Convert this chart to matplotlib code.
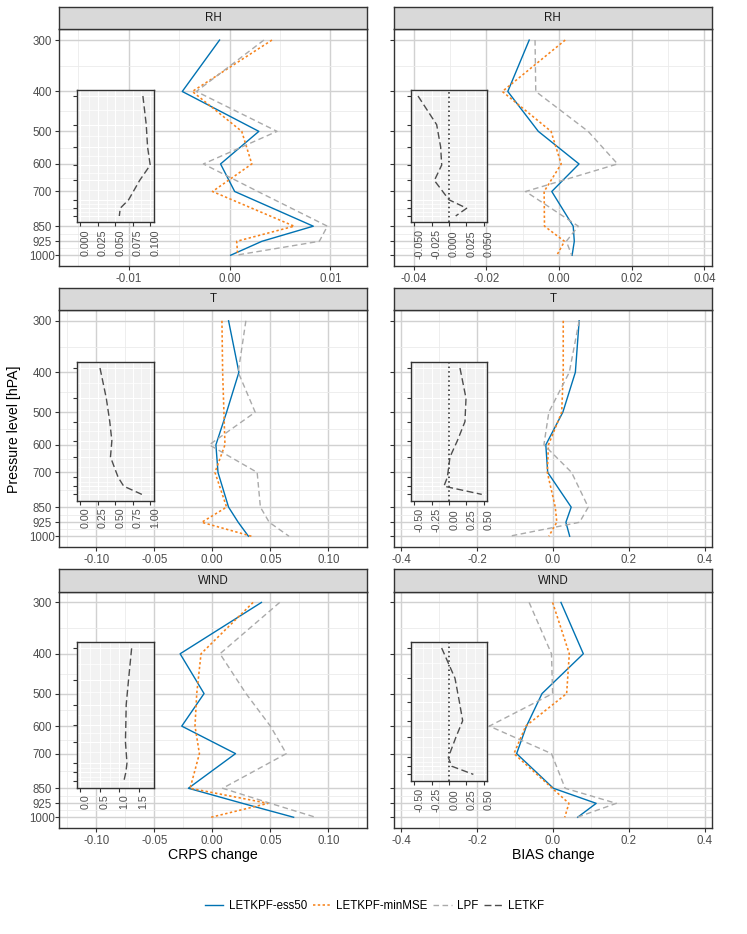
"""Pressure-level profiles of CRPS and BIAS change, with LETKF insets"""

import numpy as np
import matplotlib

matplotlib.use("Agg")
from matplotlib import pyplot as plt
from matplotlib import transforms
from matplotlib.lines import Line2D
from matplotlib.ticker import NullFormatter

plt.rcParams["font.family"] = ["Liberation Sans", "DejaVu Sans"]

# ---- data ----
levels = [300, 400, 500, 600, 700, 850, 925, 1000]
variables = ["RH", "T", "WIND"]
methods = ["LETKPF-ess50", "LETKPF-minMSE", "LPF", "LETKF"]

crps_rh_ess50 = [-0.0010, -0.0047, 0.0029, -0.0009, 0.0005, 0.0083, 0.0032, 0.0001]
crps_rh_minmse = [0.0042, -0.0037, 0.0012, 0.0022, -0.0017, 0.0064, 0.0007, 0.0008]
crps_rh_lpf = [0.0034, -0.0033, 0.0047, -0.0026, 0.0028, 0.0097, 0.0089, 0.0006]
crps_rh_letkf = [0.0895, 0.0943, 0.0962, 0.1000, 0.0848, 0.0690, 0.0570, 0.0557]

crps_t_ess50 = [0.0140, 0.0229, 0.0123, 0.0031, 0.0049, 0.0140, 0.0223, 0.0311]
crps_t_minmse = [0.0083, 0.0089, 0.0100, 0.0109, 0.0023, 0.0123, -0.0091, 0.0337]
crps_t_lpf = [0.0289, 0.0223, 0.0369, -0.0026, 0.0386, 0.0414, 0.0490, 0.0660]
crps_t_letkf = [0.28, 0.37, 0.42, 0.45, 0.43, 0.54, 0.62, 0.88]

crps_wind_ess50 = [0.0423, -0.0277, -0.0071, -0.0263, 0.0200, -0.0206, 0.0260, 0.0700]
crps_wind_minmse = [0.0351, -0.0097, -0.0134, -0.0149, -0.0111, -0.0191, 0.0480, -0.0011]
crps_wind_lpf = [0.0580, 0.0066, 0.0290, 0.0500, 0.0637, 0.0089, 0.0500, 0.0889]
crps_wind_letkf = [1.32, 1.24, 1.18, 1.17, 1.16, 1.20, 1.17, 1.12]

bias_rh_ess50 = [-0.0082, -0.0141, -0.0057, 0.0055, -0.0020, 0.0039, 0.0042, 0.0036]
bias_rh_minmse = [0.0017, -0.0156, -0.0022, 0.0006, -0.0041, -0.0040, 0.0015, -0.0006]
bias_rh_lpf = [-0.0066, -0.0064, 0.0080, 0.0161, -0.0092, 0.0053, 0.0020, 0.0035]
bias_rh_letkf = [-0.0445, -0.0177, -0.0120, -0.0105, -0.0210, 0.0000, 0.0254, 0.0096]

bias_t_ess50 = [0.069, 0.059, 0.026, -0.019, -0.014, 0.048, 0.034, 0.044]
bias_t_minmse = [0.027, 0.027, 0.023, -0.012, -0.015, 0.006, 0.010, -0.011]
bias_t_lpf = [0.069, 0.043, -0.011, -0.024, 0.049, 0.093, 0.070, -0.115]
bias_t_letkf = [0.156, 0.243, 0.228, 0.118, 0.012, -0.026, -0.075, 0.470]

bias_wind_ess50 = [0.021, 0.080, -0.029, -0.070, -0.096, 0.001, 0.114, 0.065]
bias_wind_minmse = [-0.001, 0.043, 0.036, -0.072, -0.103, -0.002, 0.042, 0.031]
bias_wind_lpf = [-0.063, -0.004, -0.001, -0.168, -0.004, 0.032, 0.167, 0.064]
bias_wind_letkf = [-0.108, 0.084, 0.147, 0.195, 0.099, -0.012, 0.036, 0.349]

# tick breaks / labels
crps_rh_ticks = [-0.01, 0.0, 0.01]
crps_rh_labels = ["-0.01", "0.00", "0.01"]
crps_ticks = [-0.10, -0.05, 0.0, 0.05, 0.10]
crps_labels = ["-0.10", "-0.05", "0.00", "0.05", "0.10"]
bias_rh_ticks = [-0.04, -0.02, 0.0, 0.02, 0.04]
bias_rh_labels = ["-0.04", "-0.02", "0.00", "0.02", "0.04"]
bias_ticks = [-0.4, -0.2, 0.0, 0.2, 0.4]
bias_labels = ["-0.4", "-0.2", "0.0", "0.2", "0.4"]

in_crps_rh_ticks = [0.0, 0.025, 0.05, 0.075, 0.1]
in_crps_rh_labels = ["0.000", "0.025", "0.050", "0.075", "0.100"]
in_bias_rh_ticks = [-0.05, -0.025, 0.0, 0.025, 0.05]
in_bias_rh_labels = ["-0.050", "-0.025", "0.000", "0.025", "0.050"]
in_crps_t_ticks = [0.0, 0.25, 0.5, 0.75, 1.0]
in_crps_t_labels = ["0.00", "0.25", "0.50", "0.75", "1.00"]
in_crps_wind_ticks = [0.0, 0.5, 1.0, 1.5]
in_crps_wind_labels = ["0.0", "0.5", "1.0", "1.5"]
in_bias_ticks = [-0.5, -0.25, 0.0, 0.25, 0.5]
in_bias_labels = ["-0.50", "-0.25", "0.00", "0.25", "0.50"]

# ---- styling ----
STYLE = {
    "LETKPF-ess50": dict(color="#0072B2", ls="-", lw=1.0),
    "LETKPF-minMSE": dict(color="#F7831C", ls=(0, (1.5, 1.5)), lw=1.15),
    "LPF": dict(color="#AAAAAA", ls=(0, (4, 2.5)), lw=1.0),
    "LETKF": dict(color="#4D4D4D", ls=(0, (5, 2.5)), lw=1.0),
}
DARK = "#333333"
TXT = "#4D4D4D"
FS_TICK = 8.3

W, H = 747, 934
fig = plt.figure(figsize=(W / 100, H / 100), dpi=100)


def box(x0, x1, y0, y1):
    """pixel box (top-left origin) -> figure fraction"""
    return [x0 / W, 1 - y1 / H, (x1 - x0) / W, (y1 - y0) / H]


def midpoints(v):
    v = np.asarray(v, dtype=float)
    return (v[:-1] + v[1:]) / 2


log_lev = np.log10(levels)
minor_levels = 10 ** midpoints(log_lev)
ypad = 0.05 * (log_lev[-1] - log_lev[0])
YLIM = (10 ** (log_lev[-1] + ypad), 10 ** (log_lev[0] - ypad))


def pressure_axis(ax, labels):
    ax.set_yscale("log")
    ax.set_ylim(*YLIM)
    ax.set_yticks(levels, labels=[str(p) for p in levels] if labels else [])
    ax.set_yticks(minor_levels, minor=True)
    ax.yaxis.set_minor_formatter(NullFormatter())


def main_panel(ax, series, xlim, ticks, labels, show_ylab):
    pressure_axis(ax, show_ylab)
    ax.set_xlim(xlim)
    step = ticks[1] - ticks[0]
    ext = [ticks[0] - step] + list(ticks) + [ticks[-1] + step]
    minors = [m for m in midpoints(ext) if xlim[0] < m < xlim[1]]
    ax.set_xticks(ticks, labels=labels)
    ax.set_xticks(minors, minor=True)
    ax.grid(which="major", color="#D1D1D1", lw=1.0)
    ax.grid(which="minor", color="#EBEBEB", lw=0.6)
    ax.set_axisbelow(True)
    for name, vals in zip(methods[:3], series):
        ax.plot(vals, levels, zorder=3, **STYLE[name])
    ax.tick_params(which="major", length=2.75, width=0.8, color=DARK,
                   labelsize=FS_TICK, labelcolor=TXT)
    ax.tick_params(which="minor", length=0)
    ax.tick_params(axis="x", pad=2.3)
    ax.tick_params(axis="y", pad=9.5)
    for lbl in ax.get_yticklabels():
        lbl.set_ha("center")
    for sp in ax.spines.values():
        sp.set_color(DARK)
        sp.set_linewidth(1.0)


def strip(x0, x1, y0, y1, text):
    sax = fig.add_axes(box(x0, x1, y0, y1))
    sax.set_facecolor("#D9D9D9")
    sax.set_xticks([])
    sax.set_yticks([])
    for sp in sax.spines.values():
        sp.set_color(DARK)
        sp.set_linewidth(1.0)
    sax.text(0.5, 0.5, text, ha="center", va="center", fontsize=FS_TICK,
             color="#1A1A1A", transform=sax.transAxes)


def inset(px, vals, xlim, ticks, labels, zero_line):
    iax = fig.add_axes(box(*px), zorder=5)
    iax.set_facecolor("#F2F2F2")
    pressure_axis(iax, False)
    iax.set_xlim(xlim)
    iax.set_xticks(ticks, labels=[])
    iax.set_xticks(midpoints(ticks), minor=True)
    iax.grid(which="major", color="white", lw=0.8)
    iax.grid(which="minor", color="white", lw=0.5)
    iax.set_axisbelow(True)
    if zero_line:
        iax.axvline(0, color="#222222", ls=(0, (1, 2)), lw=1.1, zorder=2)
    iax.plot(vals, levels, zorder=3, **STYLE["LETKF"])
    iax.tick_params(which="major", length=2.75, width=0.8, color=DARK)
    iax.tick_params(which="minor", length=0)
    for sp in iax.spines.values():
        sp.set_color(DARK)
        sp.set_linewidth(1.0)
    base = iax.get_xaxis_transform()
    texts = [iax.text(x, 0, lab, rotation=90, ha="left", va="top", fontsize=7.7,
                      color=TXT, transform=base) for x, lab in zip(ticks, labels)]
    renderer = fig.canvas.get_renderer()
    heights = [t.get_window_extent(renderer).height for t in texts]
    hmax = max(heights)
    for t, h in zip(texts, heights):
        t.set_transform(transforms.offset_copy(base, fig=fig, x=0,
                                               y=-(7 + (hmax - h) / 2), units="dots"))


# ---- layout (pixels) ----
cols = [(59.3, 366.7), (394.0, 711.7)]
strip_tops = [7.0, 287.6, 569.4]
panel_tops = [29.3, 310.0, 591.7]
panel_bots = [266.0, 547.0, 828.0]

crps = [
    (crps_rh_ess50, crps_rh_minmse, crps_rh_lpf),
    (crps_t_ess50, crps_t_minmse, crps_t_lpf),
    (crps_wind_ess50, crps_wind_minmse, crps_wind_lpf),
]
bias = [
    (bias_rh_ess50, bias_rh_minmse, bias_rh_lpf),
    (bias_t_ess50, bias_t_minmse, bias_t_lpf),
    (bias_wind_ess50, bias_wind_minmse, bias_wind_lpf),
]
crps_x = [
    ((-0.0169, 0.0136), crps_rh_ticks, crps_rh_labels),
    ((-0.1317, 0.1329), crps_ticks, crps_labels),
    ((-0.1317, 0.1329), crps_ticks, crps_labels),
]
bias_x = [
    ((-0.0454, 0.0420), bias_rh_ticks, bias_rh_labels),
    ((-0.4195, 0.4187), bias_ticks, bias_labels),
    ((-0.4195, 0.4187), bias_ticks, bias_labels),
]
insets = [
    ((77.0, 153.7, 90.0, 222.0), crps_rh_letkf, (-0.005, 0.105), in_crps_rh_ticks, in_crps_rh_labels, False),
    ((410.7, 487.3, 90.0, 222.0), bias_rh_letkf, (-0.055, 0.055), in_bias_rh_ticks, in_bias_rh_labels, True),
    ((77.0, 153.7, 361.7, 500.7), crps_t_letkf, (-0.05, 1.05), in_crps_t_ticks, in_crps_t_labels, False),
    ((411.0, 487.3, 361.7, 500.7), bias_t_letkf, (-0.55, 0.55), in_bias_ticks, in_bias_labels, True),
    ((77.0, 153.7, 641.7, 787.7), crps_wind_letkf, (-0.09, 1.89), in_crps_wind_ticks, in_crps_wind_labels, False),
    ((411.0, 487.3, 641.7, 780.7), bias_wind_letkf, (-0.55, 0.55), in_bias_ticks, in_bias_labels, True),
]

for r, var in enumerate(variables):
    for c, (series, (xlim, ticks, labels)) in enumerate(
        [(crps[r], crps_x[r]), (bias[r], bias_x[r])]
    ):
        x0, x1 = cols[c]
        ax = fig.add_axes(box(x0, x1, panel_tops[r], panel_bots[r]))
        main_panel(ax, series, xlim, ticks, labels, show_ylab=(c == 0))
        strip(x0, x1, strip_tops[r], panel_tops[r], var)

for spec in insets:
    inset(*spec)

fig.text(213 / W, 1 - 855 / H, "CRPS change", ha="center", va="center", fontsize=10.2)
fig.text(553 / W, 1 - 855 / H, "BIAS change", ha="center", va="center", fontsize=10.2)
fig.text(14 / W, 1 - 429 / H, "Pressure level [hPA]", rotation=90,
         ha="center", va="center", fontsize=10.2)

handles = [Line2D([0], [0], **STYLE[m]) for m in methods]
fig.legend(handles, methods, loc="center", bbox_to_anchor=(374.5 / W, 1 - 906 / H),
           ncol=4, frameon=False, fontsize=FS_TICK, handlelength=1.6,
           handletextpad=0.45, columnspacing=0.5)

fig.savefig("out.png", dpi=100)
